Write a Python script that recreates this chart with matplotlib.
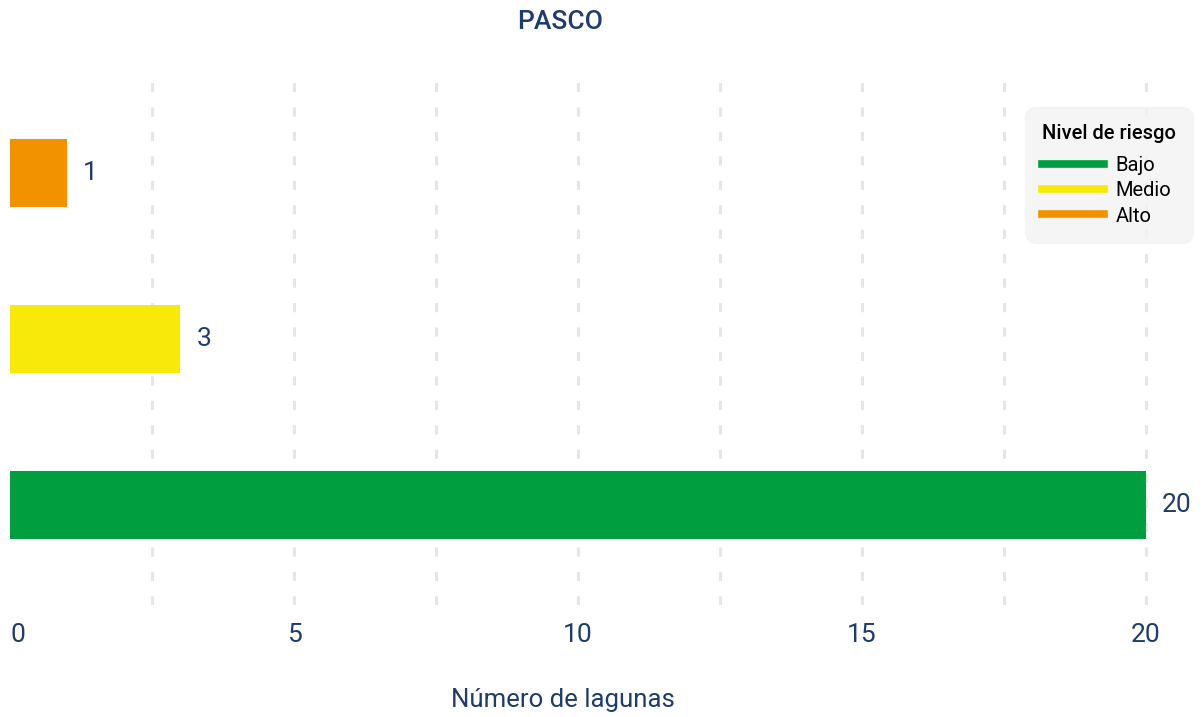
import matplotlib.pyplot as plt
from matplotlib.lines import Line2D

plt.rcParams['font.family'] = ['Roboto', 'DejaVu Sans']

# Lagunas por nivel de riesgo - Pasco
niveles = ['Bajo', 'Medio', 'Alto']
lagunas = [20, 3, 1]
colores = ['#009E3F', '#F8E90B', '#F39200']
azul = '#1F3D6B'

fig = plt.figure(figsize=(12.02, 7.17), dpi=100)
ax = fig.add_axes([10 / 1202, 1 - 605 / 717, 1180 / 1202, 525 / 717])

pos = list(range(len(niveles)))
ax.barh(pos, lagunas, height=0.41, color=colores, zorder=2)
for p, v in zip(pos, lagunas):
    ax.text(v + 0.28, p, str(v), va='center', ha='left', fontsize=19,
            color=azul)

ax.set_xlim(0, 1180 / 56.8)
ax.set_ylim(-0.6, 2.56)

# rejilla vertical discontinua cada 2.5
for gx in [2.5 * i for i in range(1, 9)]:
    ax.axvline(gx, color='#E6E6E6', lw=2.2, ls=(0, (3, 5)), zorder=1)

for s in ax.spines.values():
    s.set_visible(False)
ax.set_yticks([])
ax.set_xticks([0, 5, 10, 15, 20])
ax.set_xticklabels(['0', '5', '10', '15', '20'])
ax.tick_params(axis='x', length=0, pad=13, labelsize=19, labelcolor=azul)
ax.get_xticklabels()[0].set_horizontalalignment('left')

fig.text(563 / 1202, 1 - 700 / 717, 'Número de lagunas', ha='center',
         va='center', fontsize=18.5, color=azul)
fig.text(560 / 1202, 1 - 22 / 717, 'PASCO', ha='center', va='center',
         fontsize=19, color=azul, fontweight='medium')

handles = [Line2D([0], [0], color=c, lw=5.5) for c in colores]
leg = ax.legend(handles, niveles, title='Nivel de riesgo', loc='upper right',
                bbox_to_anchor=(1193 / 1202, 1 - 107 / 717),
                bbox_transform=fig.transFigure, borderaxespad=0,
                frameon=True, fontsize=14.5, title_fontsize=14.5,
                handlelength=3.1, handletextpad=0.55, labelspacing=0.32,
                borderpad=0.85, alignment='left')
leg.get_frame().set_facecolor('#F2F3F2')
leg.get_frame().set_edgecolor('#F2F3F2')
leg.get_frame().set_boxstyle('round,pad=0,rounding_size=0.6')
leg.get_title().set_fontweight('medium')
leg._legend_box.sep = 9

fig.savefig('out.png', dpi=100)
